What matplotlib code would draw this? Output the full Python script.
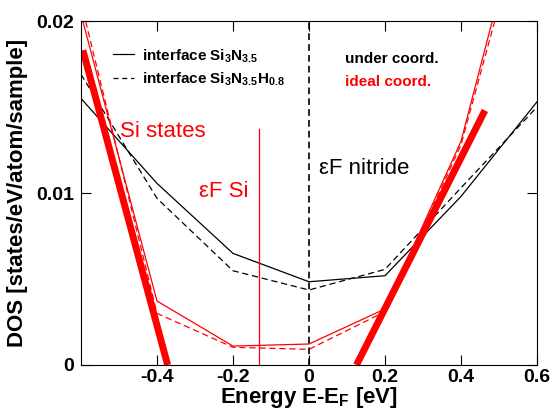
import matplotlib
matplotlib.use("Agg")
import matplotlib.pyplot as plt
from matplotlib.lines import Line2D

plt.rcParams['font.family'] = ['Liberation Sans', 'DejaVu Sans']
plt.rcParams['mathtext.fontset'] = 'custom'
plt.rcParams['mathtext.rm'] = 'Liberation Sans'
plt.rcParams['mathtext.bf'] = 'Liberation Sans:bold'

# energy grid (eV) and DOS values
energy = [-0.6, -0.4, -0.2, 0.0, 0.2, 0.4, 0.6]
dos_under_n35 = [0.0155, 0.01056, 0.00649, 0.00484, 0.00519, 0.0098, 0.0153]
dos_under_n35h = [0.0169, 0.00969, 0.00548, 0.00436, 0.00556, 0.0103, 0.0150]
dos_ideal_n35 = [0.0204, 0.00372, 0.0011, 0.00122, 0.00326, 0.0130, 0.0300]
dos_ideal_n35h = [0.0211, 0.0030, 0.00103, 0.00091, 0.0031, 0.0128, 0.0290]

# thick guide lines for the Si band edges
edge_left_x = [-0.595, -0.372]
edge_left_y = [0.0183, 0.0]
edge_right_x = [0.125, 0.463]
edge_right_y = [0.0, 0.0148]

# Fermi levels
ef_si = -0.1316
ef_si_top = 0.0137
ef_nitride = 0.0

xtick_vals = [-0.4, -0.2, 0.0, 0.2, 0.4, 0.6]
xtick_labels = ["-0.4", "-0.2", "0", "0.2", "0.4", "0.6"]
ytick_vals = [0.0, 0.01, 0.02]
ytick_labels = ["0", "0.01", "0.02"]

fig = plt.figure(figsize=(5.52, 4.12), dpi=100)
ax = fig.add_axes([0.1467, 0.1141, 0.8261, 0.8349])

ax.plot(energy, dos_under_n35, color="black", lw=0.9)
ax.plot(energy, dos_under_n35h, color="black", lw=0.9, ls=(0, (5, 3)))
ax.plot(energy, dos_ideal_n35, color="red", lw=0.9)
ax.plot(energy, dos_ideal_n35h, color="red", lw=0.9, ls=(0, (5, 3)))

ax.plot(edge_left_x, edge_left_y, color="red", lw=5, solid_capstyle="butt")
ax.plot(edge_right_x, edge_right_y, color="red", lw=5, solid_capstyle="butt")

ax.axvline(ef_nitride, color="black", lw=1.2, ls=(0, (4, 2.5)))
ax.plot([ef_si, ef_si], [0.0, ef_si_top], color="red", lw=0.9)

ax.set_xlim(-0.6, 0.6)
ax.set_ylim(0.0, 0.02)
ax.set_xticks(xtick_vals)
ax.set_xticklabels(xtick_labels)
ax.set_yticks(ytick_vals)
ax.set_yticklabels(ytick_labels)
ax.tick_params(direction="in", length=7, width=0.8, top=True, right=True,
               labelsize=14)
ax.tick_params(axis="x", pad=3)
ax.tick_params(axis="y", pad=5)
for lab in ax.get_xticklabels() + ax.get_yticklabels():
    lab.set_fontweight("bold")

ax.set_xlabel("Energy E-E$_\\mathbf{F}$ [eV]", fontsize=16, fontweight="bold",
              labelpad=-1)
ax.set_ylabel("DOS [states/eV/atom/sample]", fontsize=16, fontweight="bold",
              labelpad=6)

# legend for the two interfaces
handles = [Line2D([], [], color="black", lw=0.9),
           Line2D([], [], color="black", lw=0.9, ls=(0, (4, 3)))]
labels = ["interface Si$_\\mathbf{3}$N$_\\mathbf{3.5}$",
          "interface Si$_\\mathbf{3}$N$_\\mathbf{3.5}$H$_\\mathbf{0.8}$"]
ax.legend(handles, labels, loc="upper left", bbox_to_anchor=(0.04, 0.965),
          frameon=False, handlelength=1.4, handletextpad=0.5,
          labelspacing=0.4, prop={"size": 11, "weight": "bold"})

ax.text(0.0951, 0.0178, "under coord.", fontsize=11, fontweight="bold",
        color="black", va="center")
ax.text(0.0951, 0.01645, "ideal coord.", fontsize=11, fontweight="bold",
        color="red", va="center")

ax.text(-0.497, 0.0136, "Si states", fontsize=16, color="red", va="center")
ax.text(-0.29, 0.0101, "\u03b5F Si", fontsize=16, color="red", va="center")
ax.text(0.026, 0.0114, "\u03b5F nitride", fontsize=16, color="black",
        va="center")

fig.savefig("out.png", dpi=100)
